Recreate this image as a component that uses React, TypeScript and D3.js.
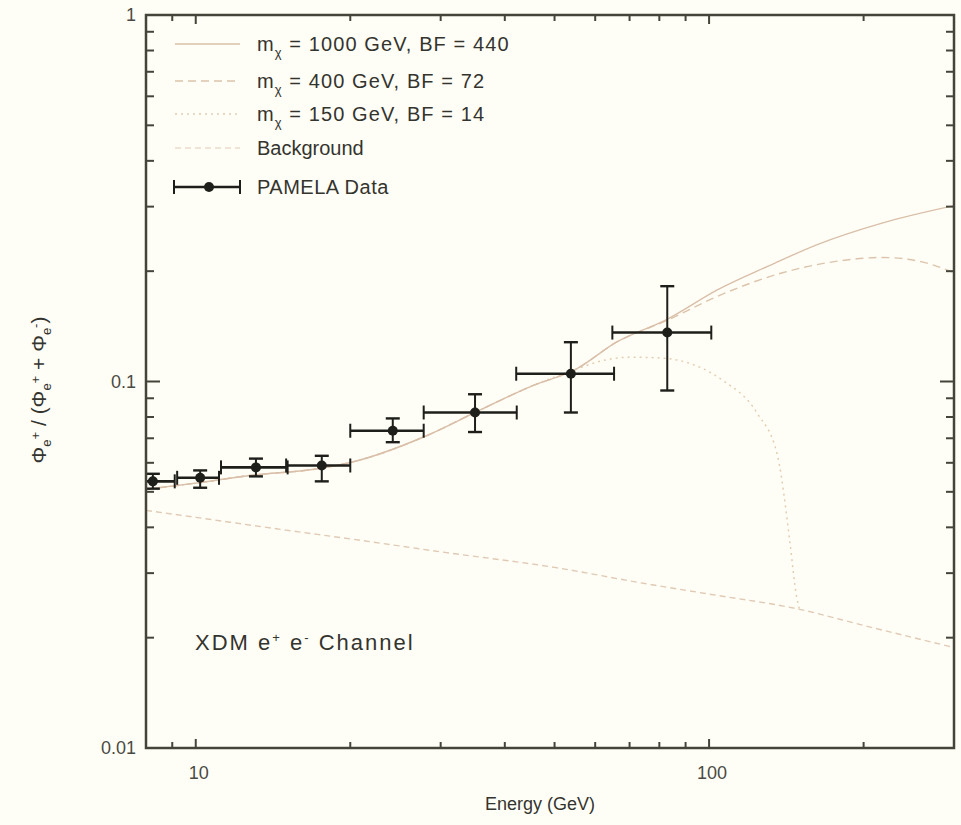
import React from "react";
import * as d3 from "d3";

// ---------- data ----------
const pamelaE = [8.25, 10.2, 13.1, 17.6, 24.2, 35.0, 53.8, 82.9];
const pamelaVal = [0.0534, 0.0546, 0.0583, 0.059, 0.0734, 0.0823, 0.105, 0.136];
const pamelaELow = [7.6, 9.2, 11.2, 15.0, 20.0, 27.8, 42.1, 64.8];
const pamelaEHigh = [9.1, 11.1, 15.1, 20.0, 27.8, 42.2, 65.3, 101];
const pamelaValLow = [0.051, 0.0513, 0.0551, 0.0534, 0.0683, 0.0728, 0.0823, 0.0945];
const pamelaValHigh = [0.056, 0.0572, 0.0616, 0.0627, 0.0793, 0.0923, 0.128, 0.182];

const bgE = [8, 10, 15, 20, 30, 50, 75, 100, 150, 200, 300];
const bgVal = [0.0445, 0.0426, 0.0393, 0.0372, 0.0343, 0.0311, 0.0281, 0.0263, 0.0239, 0.0216, 0.0188];

const m1000E = [8, 10, 13, 17, 20, 28, 35, 45, 55, 66, 83, 104, 130, 162, 218, 300];
const m1000Val = [0.0508, 0.0528, 0.0556, 0.0576, 0.0601, 0.0709, 0.0823, 0.097, 0.108, 0.128, 0.148, 0.178, 0.206, 0.236, 0.271, 0.302];

const m400E = [8, 10, 13, 17, 20, 28, 35, 45, 55, 66, 83, 104, 139, 174, 218, 260, 300];
const m400Val = [0.0508, 0.0528, 0.0556, 0.0576, 0.0601, 0.0709, 0.0823, 0.097, 0.108, 0.128, 0.147, 0.171, 0.198, 0.212, 0.218, 0.212, 0.198];

const m150E = [8, 10, 13, 17, 20, 28, 35, 45, 55, 62, 70, 80, 90, 106, 124, 136, 140, 144, 148, 150];
const m150Val = [0.0508, 0.0528, 0.0556, 0.0576, 0.0601, 0.0709, 0.0823, 0.097, 0.108, 0.114, 0.1165, 0.116, 0.113, 0.101, 0.082, 0.0626, 0.0488, 0.0355, 0.026, 0.0239];

const xMajorTicks = [10, 100];
const xMinorTicks = [9, 20, 30, 40, 50, 60, 70, 80, 90, 200];
const yMajorTicks = [1, 0.1, 0.01];
const yTickLabels = ["1", "0.1", "0.01"];
const yMinorTicks = [0.02, 0.03, 0.04, 0.05, 0.06, 0.07, 0.08, 0.09, 0.2, 0.3, 0.4, 0.5, 0.6, 0.7, 0.8, 0.9];

const legendLabels = ["1000 GeV, BF = 440", "400 GeV, BF = 72", "150 GeV, BF = 14"];

// ---------- layout ----------
const W = 961;
const H = 825;
const L = 146, R = 954, T = 15, B = 748;

const x = d3.scaleLog().domain([8, 300]).range([L, R]);
const y = d3.scaleLog().domain([0.01, 1]).range([B, T]);

const lineGen = d3
  .line<[number, number]>()
  .x((d) => x(d[0]))
  .y((d) => y(d[1]))
  .curve(d3.curveMonotoneX);

const zip = (a: number[], b: number[]) => a.map((v, i) => [v, b[i]] as [number, number]);

const c1000 = "#d9bfa9";
const c400 = "#dcc4ac";
const c150 = "#e2cdb4";
const cBg = "#e0cab5";
const axisColor = "#45443a";
const textColor = "#34342f";
const font = "'Liberation Sans', Arial, sans-serif";

export default function App() {
  const legendY = [44, 81, 114, 148, 187];
  return (
    <svg
      width={W}
      height={H}
      style={{ position: "absolute", left: 0, top: 0, background: "#fffef6" }}
      fontFamily={font}
    >
      <rect x={0} y={0} width={W} height={H} fill="#fffef6" />
      <defs>
        <clipPath id="plotclip">
          <rect x={L} y={T} width={R - L} height={B - T} />
        </clipPath>
      </defs>

      {/* curves */}
      <g clipPath="url(#plotclip)" fill="none">
        <path d={lineGen(zip(bgE, bgVal)) || ""} stroke={cBg} strokeWidth={1.4} strokeDasharray="6,4" />
        <path d={lineGen(zip(m150E, m150Val)) || ""} stroke={c150} strokeWidth={1.5} strokeDasharray="2,4" />
        <path d={lineGen(zip(m400E, m400Val)) || ""} stroke={c400} strokeWidth={1.4} strokeDasharray="8,5" />
        <path d={lineGen(zip(m1000E, m1000Val)) || ""} stroke={c1000} strokeWidth={1.4} />
      </g>

      {/* PAMELA data */}
      <g clipPath="url(#plotclip)" stroke="#1e1e1a">
        {pamelaE.map((e, i) => {
          const cx = x(e);
          const cy = y(pamelaVal[i]);
          const x0 = x(pamelaELow[i]);
          const x1 = x(pamelaEHigh[i]);
          const y0 = y(pamelaValLow[i]);
          const y1 = y(pamelaValHigh[i]);
          return (
            <g key={i}>
              <line x1={x0} x2={x1} y1={cy} y2={cy} strokeWidth={2.6} />
              <line x1={x0} x2={x0} y1={cy - 7} y2={cy + 7} strokeWidth={2} />
              <line x1={x1} x2={x1} y1={cy - 7} y2={cy + 7} strokeWidth={2} />
              <line x1={cx} x2={cx} y1={y0} y2={y1} strokeWidth={2} />
              <line x1={cx - 7} x2={cx + 7} y1={y0} y2={y0} strokeWidth={2.4} />
              <line x1={cx - 7} x2={cx + 7} y1={y1} y2={y1} strokeWidth={2.4} />
              <circle cx={cx} cy={cy} r={5} fill="#1e1e1a" stroke="none" />
            </g>
          );
        })}
      </g>

      {/* frame */}
      <rect x={L} y={T} width={R - L} height={B - T} fill="none" stroke={axisColor} strokeWidth={2.5} />

      {/* ticks */}
      <g stroke={axisColor} strokeWidth={2}>
        {yMajorTicks.map((v) => (
          <g key={"ym" + v}>
            <line x1={L} x2={L + 14} y1={y(v)} y2={y(v)} />
            <line x1={R} x2={R - 14} y1={y(v)} y2={y(v)} />
          </g>
        ))}
        {yMinorTicks.map((v) => (
          <g key={"yn" + v}>
            <line x1={L} x2={L + 8} y1={y(v)} y2={y(v)} />
            <line x1={R} x2={R - 8} y1={y(v)} y2={y(v)} />
          </g>
        ))}
        {xMajorTicks.map((v) => (
          <g key={"xm" + v}>
            <line x1={x(v)} x2={x(v)} y1={B} y2={B - 9} />
            <line x1={x(v)} x2={x(v)} y1={T} y2={T + 9} />
          </g>
        ))}
        {xMinorTicks.map((v) => (
          <g key={"xn" + v}>
            <line x1={x(v)} x2={x(v)} y1={B} y2={B - 6} />
            <line x1={x(v)} x2={x(v)} y1={T} y2={T + 6} />
          </g>
        ))}
      </g>

      {/* tick labels */}
      <g fill="#4a4a44" fontSize={18}>
        {yMajorTicks.map((v, i) => (
          <text key={"yl" + v} x={L - 10} y={y(v) + 6} textAnchor="end">
            {yTickLabels[i]}
          </text>
        ))}
        {xMajorTicks.map((v) => (
          <text key={"xl" + v} x={x(v) + 3} y={B + 31} textAnchor="middle">
            {String(v)}
          </text>
        ))}
      </g>

      {/* axis titles */}
      <text x={(L + R) / 2 - 10} y={B + 62} textAnchor="middle" fontSize={18} fill={textColor}>
        Energy (GeV)
      </text>
      <text
        transform={`translate(46, 390) rotate(-90)`}
        textAnchor="middle"
        fontSize={21}
        fill={textColor}
      >
        <tspan>Φ</tspan>
        <tspan fontSize={13} dy={5}>e</tspan>
        <tspan fontSize={13} dy={-11}>+</tspan>
        <tspan dy={6}> / (Φ</tspan>
        <tspan fontSize={13} dy={5}>e</tspan>
        <tspan fontSize={13} dy={-11}>+</tspan>
        <tspan dy={6}> + Φ</tspan>
        <tspan fontSize={13} dy={5}>e</tspan>
        <tspan fontSize={13} dy={-11}>-</tspan>
        <tspan dy={6}>)</tspan>
      </text>

      {/* legend */}
      <g fontSize={20} fill={textColor}>
        <line x1={175} x2={240} y1={legendY[0]} y2={legendY[0]} stroke={c1000} strokeWidth={1.4} />
        <line x1={175} x2={240} y1={legendY[1]} y2={legendY[1]} stroke={c400} strokeWidth={1.4} strokeDasharray="8,5" />
        <line x1={175} x2={240} y1={legendY[2]} y2={legendY[2]} stroke={c150} strokeWidth={1.5} strokeDasharray="2,4" />
        <line x1={175} x2={240} y1={legendY[3]} y2={legendY[3]} stroke="#ecdccb" strokeWidth={1.3} strokeDasharray="6,4" />
        {legendLabels.map((lab, i) => (
          <text key={lab} x={257} y={legendY[i] + 7} letterSpacing={1.1}>
            <tspan>m</tspan>
            <tspan fontSize={13} dy={6}>χ</tspan>
            <tspan dy={-6}> = {lab}</tspan>
          </text>
        ))}
        <text x={257} y={legendY[3] + 7}>Background</text>
        <g stroke="#1e1e1a">
          <line x1={174} x2={240} y1={legendY[4]} y2={legendY[4]} strokeWidth={2.6} />
          <line x1={174} x2={174} y1={legendY[4] - 7} y2={legendY[4] + 7} strokeWidth={2} />
          <line x1={240} x2={240} y1={legendY[4] - 7} y2={legendY[4] + 7} strokeWidth={2} />
          <circle cx={209} cy={legendY[4]} r={5} fill="#1e1e1a" stroke="none" />
        </g>
        <text x={257} y={legendY[4] + 7} letterSpacing={0.5}>PAMELA Data</text>
      </g>

      {/* annotation */}
      <text x={195} y={650} fontSize={22} fill={textColor} letterSpacing={2}>
        <tspan>XDM e</tspan>
        <tspan fontSize={13} dy={-8}>+</tspan>
        <tspan dy={8}> e</tspan>
        <tspan fontSize={13} dy={-8}>-</tspan>
        <tspan dy={8}> Channel</tspan>
      </text>
    </svg>
  );
}
